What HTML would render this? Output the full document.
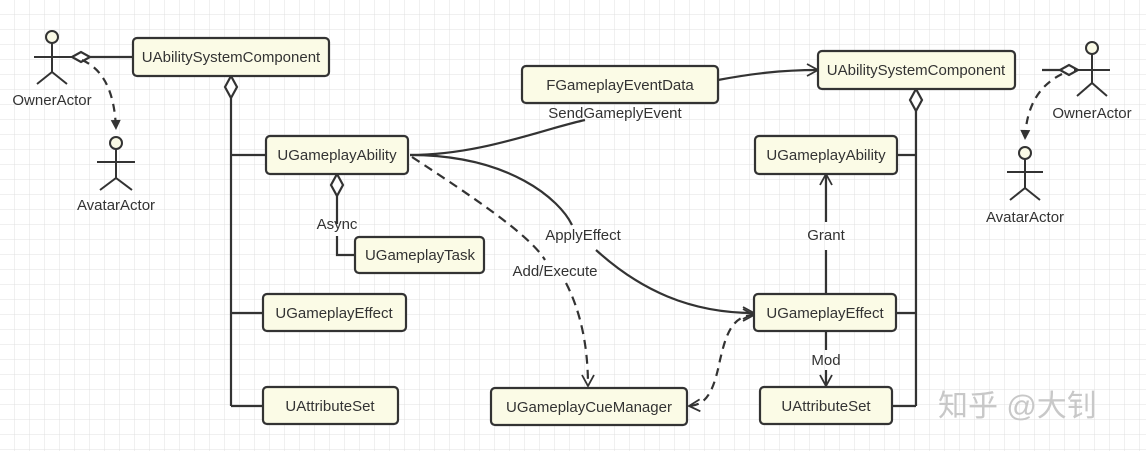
<!DOCTYPE html>
<html><head><meta charset="utf-8"><style>
html,body{margin:0;padding:0;background:#fff}
svg{display:block}
text{font-family:"Liberation Sans",sans-serif;font-size:15px;fill:#333}
</style></head><body>
<svg width="1146" height="451" viewBox="0 0 1146 451" xmlns="http://www.w3.org/2000/svg">
<defs>
<pattern id="g" width="15" height="15" patternUnits="userSpaceOnUse"><path d="M15 0V15H0" fill="none" stroke="#e0e0e0" stroke-width="1"/></pattern>
<marker id="a" markerWidth="14" markerHeight="14" refX="12" refY="7" orient="auto" markerUnits="userSpaceOnUse"><path d="M1 1L12 7L1 13" fill="none" stroke="#333" stroke-width="1.8"/></marker>
<marker id="as" markerWidth="14" markerHeight="14" refX="2" refY="7" orient="auto" markerUnits="userSpaceOnUse"><path d="M13 1L2 7L13 13" fill="none" stroke="#333" stroke-width="1.8"/></marker>
<marker id="af" markerWidth="12" markerHeight="12" refX="11" refY="6" orient="auto" markerUnits="userSpaceOnUse"><path d="M1 1L11 6L1 11Z" fill="#333"/></marker>
</defs>
<rect width="1146" height="451" fill="url(#g)"/>
<g fill="none" stroke="#333" stroke-width="2.2">
<path d="M231 98V406M231 155H266M231 313H263M231 406H263"/>
<path d="M231 76l-6 11l6 11l6-11z" fill="#fff"/>
<path d="M916 111V406M897 155H916M896 313H916M892 406H916"/>
<path d="M916 89l-6 11l6 11l6-11z" fill="#fff"/>
<path d="M337 196V224M337 236V255H355"/>
<path d="M337 174l-6 11l6 11l6-11z" fill="#fff"/>
<path d="M90 57H133"/>
<path d="M72 57l9-5l9 5l-9 5z" fill="#fff"/>
<path d="M1042 70H1060"/>
<path d="M1078 70l-9-5l-9 5l9 5z" fill="#fff"/>
<path d="M82 60C105 70 115 95 116 130" stroke-dasharray="8,6" marker-end="url(#af)"/>
<path d="M1062 74C1040 85 1026 105 1025 140" stroke-dasharray="8,6" marker-end="url(#af)"/>
<path d="M410 155C480 155 540 130 585 120"/>
<path d="M410 155C510 155 560 200 572 225M596 250C640 290 690 313 754 313" marker-end="url(#a)"/>
<path d="M412 157C470 195 530 235 545 260M566 283C585 320 588 360 588 386" stroke-dasharray="9,6" marker-end="url(#a)"/>
<path d="M718 80C750 74 780 70 818 70" marker-end="url(#a)"/>
<path d="M754 315C730 315 725 340 720 360C713 395 705 405 689 406" stroke-dasharray="8,6" marker-end="url(#a)" marker-start="url(#as)"/>
<path d="M826 294V250M826 222V174" marker-end="url(#a)"/>
<path d="M826 331V350M826 370V386" marker-end="url(#a)"/>
</g>
<g fill="none" stroke="#333" stroke-width="2">
<circle cx="52" cy="37" r="6" fill="#fafae6"/><path d="M52 43V72M34 57H72M37 84L52 72L67 84"/>
<circle cx="116" cy="143" r="6" fill="#fafae6"/><path d="M116 149V178M97 162H135M100 190L116 178L132 190"/>
<circle cx="1092" cy="48" r="6" fill="#fafae6"/><path d="M1092 54V83M1074 70H1110M1077 96L1092 83L1107 96"/>
<circle cx="1025" cy="153" r="6" fill="#fafae6"/><path d="M1025 159V188M1007 172H1043M1010 200L1025 188L1040 200"/>
</g>
<g>
<text x="52" y="105" text-anchor="middle">OwnerActor</text>
<text x="116" y="210" text-anchor="middle">AvatarActor</text>
<text x="1092" y="118" text-anchor="middle">OwnerActor</text>
<text x="1025" y="222" text-anchor="middle">AvatarActor</text>
</g>
<g fill="#fbfbe6" stroke="#333" stroke-width="2.2">
<rect x="133" y="38" width="196" height="38" rx="4"/>
<rect x="266" y="136" width="142" height="38" rx="4"/>
<rect x="355" y="237" width="129" height="36" rx="4"/>
<rect x="263" y="294" width="143" height="37" rx="4"/>
<rect x="263" y="387" width="135" height="37" rx="4"/>
<rect x="522" y="66" width="196" height="37" rx="4"/>
<rect x="491" y="388" width="196" height="37" rx="4"/>
<rect x="818" y="51" width="197" height="38" rx="4"/>
<rect x="755" y="136" width="142" height="38" rx="4"/>
<rect x="754" y="294" width="142" height="37" rx="4"/>
<rect x="760" y="387" width="132" height="37" rx="4"/>
</g>
<g text-anchor="middle">
<text x="231" y="62">UAbilitySystemComponent</text>
<text x="337" y="160">UGameplayAbility</text>
<text x="420" y="260">UGameplayTask</text>
<text x="334" y="318">UGameplayEffect</text>
<text x="330" y="411">UAttributeSet</text>
<text x="620" y="90">FGameplayEventData</text>
<text x="589" y="412">UGameplayCueManager</text>
<text x="916" y="75">UAbilitySystemComponent</text>
<text x="826" y="160">UGameplayAbility</text>
<text x="825" y="318">UGameplayEffect</text>
<text x="826" y="411">UAttributeSet</text>
<text x="615" y="118">SendGameplyEvent</text>
<text x="583" y="240">ApplyEffect</text>
<text x="555" y="276">Add/Execute</text>
<text x="337" y="229">Async</text>
<text x="826" y="240">Grant</text>
<text x="826" y="365">Mod</text>
</g>
<text x="938" y="416" style="font-family:'Liberation Sans','Noto Sans CJK SC',sans-serif;font-size:30px;fill:#c8c8c8">知乎 @大钊</text>
</svg>
</body></html>
